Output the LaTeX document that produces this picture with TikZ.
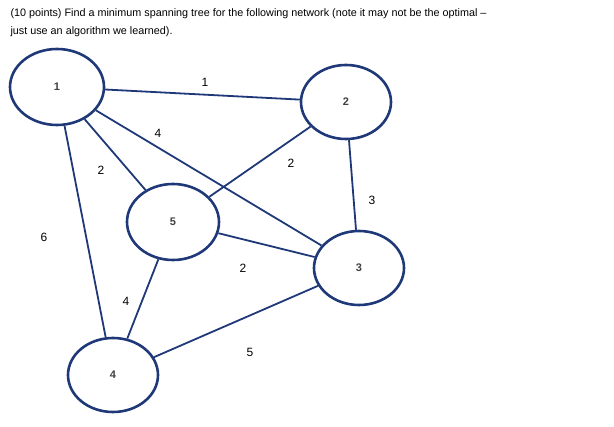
\documentclass[tikz,border=0pt]{standalone}
\usepackage{fontspec}
\setmainfont{Liberation Sans}
\usetikzlibrary{shapes.geometric}
\begin{document}
\begin{tikzpicture}[x=1pt,y=-1pt,
  nd/.style={ellipse,draw=navy,line width=2.6pt,minimum width=90pt,minimum height=74pt,font=\fontsize{11}{13}\selectfont\bfseries,text=black!75},
  ed/.style={draw=navy,line width=1.8pt},
  lb/.style={font=\fontsize{12}{14}\selectfont}]
\definecolor{navy}{RGB}{31,56,120}
\useasboundingbox (0,0) rectangle (614,427);
\node[anchor=west,font=\fontsize{10.8}{13}\selectfont] (t1) at (7,14) {(10 points) Find a minimum spanning tree for the following network (note it may not be the optimal –};
\node[anchor=west,font=\fontsize{10.8}{13}\selectfont] (t2) at (7,32) {just use an algorithm we learned).};
\node[nd,minimum width=94pt,minimum height=76pt] (n1) at (57,87) {1};
\node[nd] (n2) at (346,102) {2};
\node[nd,minimum width=92pt,minimum height=76pt] (n5) at (173,222) {5};
\node[nd] (n3) at (359,268) {3};
\node[nd] (n4) at (113,375) {4};
\draw[ed] (n1) -- (n2);
\draw[ed] (n1) -- (n3);
\draw[ed] (n1) -- (n5);
\draw[ed] (n1) -- (n4);
\draw[ed] (n2) -- (n5);
\draw[ed] (n2) -- (n3);
\draw[ed] (n5) -- (n3);
\draw[ed] (n5) -- (n4);
\draw[ed] (n4) -- (n3);
\node[lb] (l12) at (205,82) {1};
\node[lb] (l13) at (158,133) {4};
\node[lb] (l15) at (101,170) {2};
\node[lb] (l14) at (44,237) {6};
\node[lb] (l25) at (291,163) {2};
\node[lb] (l23) at (372,200) {3};
\node[lb] (l53) at (243,268) {2};
\node[lb] (l54) at (126,301) {4};
\node[lb] (l43) at (250,352) {5};
\end{tikzpicture}
\end{document}
